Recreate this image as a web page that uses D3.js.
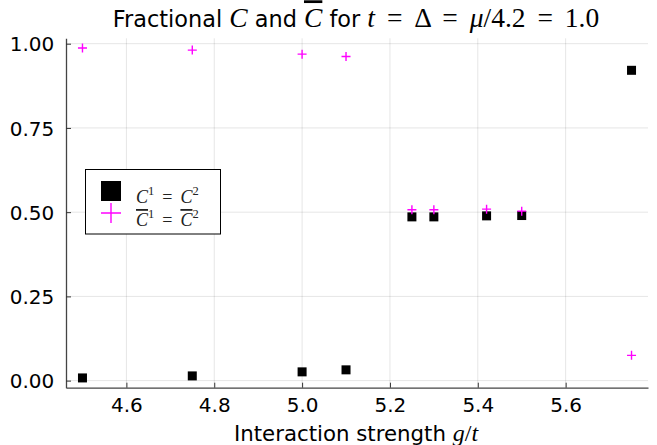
<!DOCTYPE html>
<html>
<head>
<meta charset="utf-8">
<script src="https://cdn.jsdelivr.net/npm/d3@7"></script>
<style>
  html, body { margin: 0; padding: 0; background: #fff; }
  svg text { font-family: "DejaVu Sans", sans-serif; }
  .math { font-family: "Liberation Serif", "DejaVu Serif", serif; }
</style>
</head>
<body>
<svg id="chart" width="657" height="445"></svg>
<script>
// Interaction strengths g/t
const g = [4.5, 4.75, 5.0, 5.1, 5.25, 5.3, 5.42, 5.5, 5.75];
// Fraction C^1 = C^2
const cFrac = [0.008, 0.014, 0.026, 0.032, 0.486, 0.486, 0.489, 0.490, 0.921];
// Fraction Cbar^1 = Cbar^2
const cBarFrac = [0.987, 0.981, 0.969, 0.962, 0.507, 0.507, 0.509, 0.503, 0.075];
// Tick values
const xTicks = [4.6, 4.8, 5.0, 5.2, 5.4, 5.6];
const yTicks = [0.0, 0.25, 0.5, 0.75, 1.0];

const svg = d3.select("#chart");
const plot = { left: 66, right: 648, top: 38.3, bottom: 387.7 };

const x = d3.scaleLinear().domain([4.4625, 5.7875]).range([plot.left, plot.right]);
const y = d3.scaleLinear().domain([-0.021, 1.016]).range([plot.bottom, plot.top]);

// grid lines
const grid = svg.append("g");
grid.selectAll("line.gx").data(xTicks).join("line")
  .attr("x1", d => x(d)).attr("x2", d => x(d))
  .attr("y1", plot.top).attr("y2", plot.bottom)
  .attr("stroke", "#000").attr("stroke-opacity", 0.1).attr("stroke-width", 1);
grid.selectAll("line.gy").data(yTicks).join("line")
  .attr("y1", d => y(d)).attr("y2", d => y(d))
  .attr("x1", plot.left).attr("x2", plot.right)
  .attr("stroke", "#000").attr("stroke-opacity", 0.1).attr("stroke-width", 1);

// axes with inward ticks
const xAxis = d3.axisBottom(x).tickValues(xTicks).tickFormat(d3.format(".1f"))
  .tickSizeInner(-5).tickSizeOuter(0).tickPadding(10.6);
const yAxis = d3.axisLeft(y).tickValues(yTicks).tickFormat(d3.format(".2f"))
  .tickSizeInner(-5).tickSizeOuter(0).tickPadding(11.7);

const gx = svg.append("g").attr("transform", `translate(0,${plot.bottom})`).call(xAxis);
const gy = svg.append("g").attr("transform", `translate(${plot.left},0)`).call(yAxis);
[gx, gy].forEach(a => {
  a.select(".domain").attr("stroke", "#444").attr("stroke-width", 1.3);
  a.selectAll(".tick line").attr("stroke", "#333").attr("stroke-width", 1);
  a.selectAll(".tick text").attr("fill", "#000")
    .style("font-family", "DejaVu Sans, sans-serif").style("font-size", "20px");
});
gy.selectAll(".tick text").attr("dy", "0.36em");

// markers
const sq = 9;
svg.append("g").selectAll("rect").data(g).join("rect")
  .attr("x", (d, i) => x(d) - sq / 2)
  .attr("y", (d, i) => y(cFrac[i]) - sq / 2)
  .attr("width", sq).attr("height", sq).attr("fill", "#000");

const cr = 4.5;
svg.append("g").selectAll("path").data(g).join("path")
  .attr("d", (d, i) => {
    const cx = x(d), cy = y(cBarFrac[i]);
    return `M${cx - cr},${cy}H${cx + cr}M${cx},${cy - cr}V${cy + cr}`;
  })
  .attr("stroke", "#ff00ff").attr("stroke-width", 1.4).attr("fill", "none");

// title
const mathSize = "27.5px";
const title = svg.append("text").attr("x", 356).attr("y", 27.3)
  .attr("text-anchor", "middle").attr("fill", "#000").style("font-size", "22.4px");
title.append("tspan").text("Fractional ");
title.append("tspan").attr("class", "math").style("font-style", "italic").style("font-size", mathSize).text("C");
title.append("tspan").text(" and ");
title.append("tspan").attr("class", "math").style("font-style", "italic").style("font-size", mathSize)
  .style("text-decoration", "overline").text("C");
title.append("tspan").text(" for ");
title.append("tspan").attr("class", "math").style("font-style", "italic").style("font-size", mathSize).text("t");
title.append("tspan").attr("class", "math").style("font-size", mathSize).style("word-spacing", "5px").text(" = Δ = ");
title.append("tspan").attr("class", "math").style("font-style", "italic").style("font-size", mathSize).text("μ");
title.append("tspan").attr("class", "math").style("font-size", mathSize).style("word-spacing", "5px").text("/4.2 = 1.0");

// x-axis label
const xl = svg.append("text").attr("x", 356).attr("y", 441)
  .attr("text-anchor", "middle").attr("fill", "#000").style("font-size", "21.3px");
xl.append("tspan").text("Interaction strength ");
xl.append("tspan").attr("class", "math").style("font-style", "italic").style("font-size", "24px").text("g");
xl.append("tspan").attr("class", "math").style("font-size", "24px").text("/");
xl.append("tspan").attr("class", "math").style("font-style", "italic").style("font-size", "24px").text("t");

// legend
const leg = svg.append("g");
leg.append("rect").attr("x", 85.5).attr("y", 169.5).attr("width", 135).attr("height", 64.5)
  .attr("fill", "#fff").attr("stroke", "#000").attr("stroke-width", 1);
leg.append("rect").attr("x", 101).attr("y", 181).attr("width", 20).attr("height", 20).attr("fill", "#000");
leg.append("path").attr("d", "M101,213H121M111,203V223")
  .attr("stroke", "#ff00ff").attr("stroke-width", 1.4);

function legendLabel(yBase, bar) {
  const t = leg.append("text").attr("x", 136).attr("y", yBase).attr("class", "math")
    .attr("fill", "#222").style("font-size", "18px");
  const c1 = t.append("tspan").style("font-style", "italic").text("C");
  if (bar) c1.style("text-decoration", "overline");
  t.append("tspan").attr("dy", -8).style("font-size", "12.5px").text("1");
  t.append("tspan").attr("dy", 8).attr("dx", 8).text("=");
  const c2 = t.append("tspan").attr("dx", 8).style("font-style", "italic").text("C");
  if (bar) c2.style("text-decoration", "overline");
  t.append("tspan").attr("dy", -8).style("font-size", "12.5px").text("2");
}
legendLabel(203, false);
legendLabel(226, true);
</script>
</body>
</html>
